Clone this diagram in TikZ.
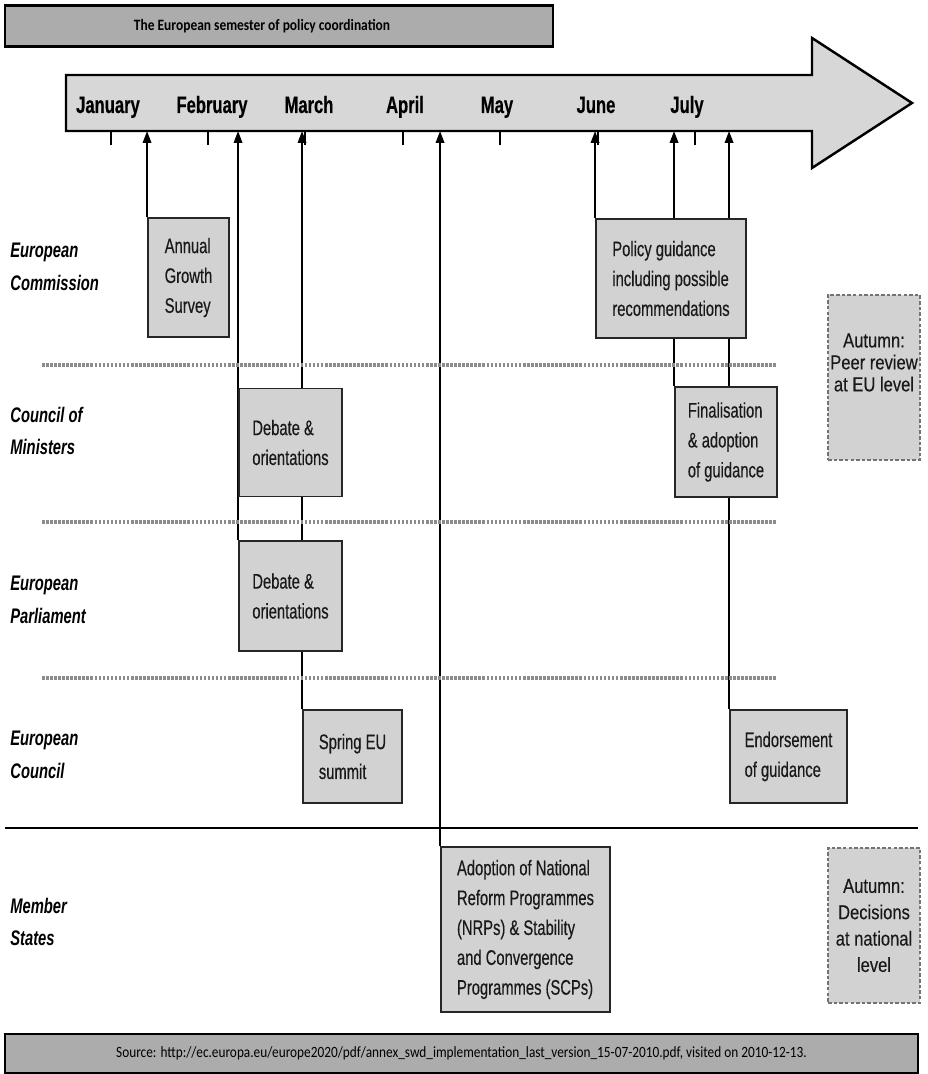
\documentclass[tikz,border=0pt]{standalone}
\usepackage{fontspec}
\setmainfont{Liberation Sans}[FakeStretch=0.7]
\newfontfamily\boxfont{Liberation Sans}[FakeStretch=0.7, FakeBold=0.35]
\newfontfamily\monthfont{Liberation Sans Bold}[FakeStretch=0.7, FakeBold=0.4]
\newfontfamily\calfont{Carlito}[FakeStretch=0.85]
\newfontfamily\autfont{Liberation Sans}[FakeStretch=0.82, FakeBold=0.3]
\usepackage{xcolor}
\usetikzlibrary{arrows.meta, backgrounds}

\definecolor{boxgray}{HTML}{D2D2D2}
\definecolor{linegray}{HTML}{D7D7D7}
\definecolor{bargray}{HTML}{ACACAC}

\begin{document}
\begin{tikzpicture}[x=0.02cm, y=-0.02cm,
    box/.style={draw=black!85, line width=1.1pt, fill=boxgray, rectangle, align=left, inner sep=0pt, text=black!90, font=\boxfont\fontsize{12}{17}\selectfont},
    autumn/.style={draw=black!55, dash pattern=on 2pt off 1.2pt, line width=1pt, fill=boxgray, rectangle, inner sep=0pt},
    auttext/.style={align=center, inner sep=0pt, text=black!90, font=\autfont\fontsize{11.5}{12.5}\selectfont},
    who/.style={anchor=west, align=left, inner sep=0pt, font=\fontsize{12}{18.5}\selectfont\bfseries\itshape},
    month/.style={anchor=base, inner sep=0pt, font=\monthfont\fontsize{13.5}{16}\selectfont},
    bar/.style={draw, line width=1.6pt, fill=bargray, rectangle, inner sep=0pt},
    sep/.style={gray!90, line width=1.8pt, dash pattern=on 1.5pt off 0.8pt},
    arr/.style={-{Triangle[length=2.4mm, width=1.7mm]}, line width=1.1pt}
]
\useasboundingbox (0,0) rectangle (927,1074);

% title and source
\node[bar, minimum width=10.96cm, minimum height=0.82cm, font=\calfont\bfseries\fontsize{9}{10}\selectfont] (title) at (279,26) {\hspace*{-0.68cm}The European semester of policy coordination};
\node[bar, minimum width=18.26cm, minimum height=0.78cm, font=\calfont\fontsize{8.9}{10}\selectfont] (source) at (461.5,1053.5) {Source: http://ec.europa.eu/europe2020/pdf/annex\_swd\_implementation\_last\_version\_15-07-2010.pdf, visited on 2010-12-13.};

% timeline
\draw[line width=1.4pt, fill=linegray] (66,75) -- (812,75) -- (812,38) -- (912,103) -- (812,168) -- (812,131) -- (66,131) -- cycle;
\coordinate (tlb) at (66,131);
\node[month] (jan) at (108,113) {January};
\node[month] (feb) at (212,113) {February};
\node[month] (mar) at (309,113) {March};
\node[month] (apr) at (405,113) {April};
\node[month] (may) at (497,113) {May};
\node[month] (jun) at (596,113) {June};
\node[month] (jul) at (687,113) {July};
\foreach \x in {111,208,305,403,500,598,695}
    \draw[line width=1.1pt] (\x,131) -- (\x,145);

% actors
\node[who] (ec) at (10,267) {European\\Commission};
\node[who] (cm) at (10,431) {Council of\\Ministers};
\node[who] (ep) at (10,600) {European\\Parliament};
\node[who] (eco) at (10,755) {European\\Council};
\node[who] (ms) at (10,922) {Member\\States};

\draw[sep] (42,365) -- (777,365);
\draw[sep] (42,522) -- (777,522);
\draw[sep] (42,678) -- (777,678);
\draw[line width=1.6pt] (5,828) -- (918,828);

% steps
\node[box, minimum width=1.62cm, minimum height=2.38cm] (ags) at (188.5,277.5) {Annual\\Growth\\Survey};
\node[box, minimum width=2.06cm, minimum height=2.16cm] (dbc) at (290.5,442.5) {Debate \&\\orientations};
\node[box, minimum width=2.06cm, minimum height=2.2cm] (dbp) at (290.5,596) {Debate \&\\orientations};
\node[box, minimum width=1.98cm, minimum height=1.86cm] (ses) at (352.5,756.5) {Spring EU\\summit};
\node[box, minimum width=3.0cm, minimum height=2.38cm] (pgr) at (671,278.5) {Policy guidance\\including possible\\recommendations};
\node[box, minimum width=2.04cm, minimum height=2.2cm] (fin) at (726,442) {Finalisation\\\& adoption\\of guidance};
\node[box, minimum width=2.34cm, minimum height=1.86cm] (eog) at (788.5,756.5) {Endorsement\\of guidance};
\node[box, minimum width=3.38cm, minimum height=3.3cm] (nrp) at (525.5,929.5) {Adoption of National\\Reform Programmes\\(NRPs) \& Stability\\and Convergence\\Programmes (SCPs)};

\node[autumn, minimum width=1.84cm, minimum height=3.3cm] (aupr) at (874,377.5) {};
\node[auttext] (auprtxt) at ([yshift=0.3cm]aupr.center) {Autumn:\\Peer review\\at EU level};
\node[autumn, minimum width=1.84cm, minimum height=3.1cm] (audn) at (874,925.5) {};
\node[auttext, font=\autfont\fontsize{11.5}{15}\selectfont] (audntxt) at (audn.center) {Autumn:\\Decisions\\at national\\level};

% links up to the timeline
\begin{scope}[on background layer]
\draw[arr] (ags.north west) -- (ags.north west |- tlb);
\draw[arr] (dbp.north west) -- (dbp.north west |- tlb);
\draw[arr] (ses.north west) -- (ses.north west |- tlb);
\draw[arr] (nrp.north west) -- (nrp.north west |- tlb);
\draw[arr] (pgr.north west) -- (pgr.north west |- tlb);
\draw[arr] (fin.north west) -- (fin.north west |- tlb);
\draw[arr] (eog.north west) -- (eog.north west |- tlb);
\end{scope}
\end{tikzpicture}
\end{document}
